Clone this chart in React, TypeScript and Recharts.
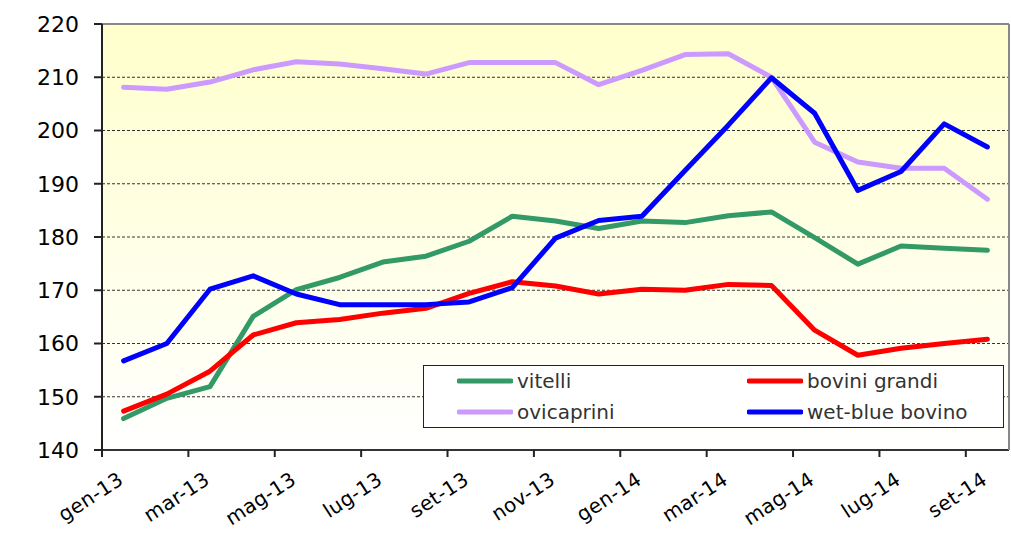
import React from 'react';
import { LineChart, Line, XAxis, YAxis, CartesianGrid, Legend, ReferenceLine } from 'recharts';

const months = ['gen-13','feb-13','mar-13','apr-13','mag-13','giu-13','lug-13','ago-13','set-13','ott-13','nov-13','dic-13','gen-14','feb-14','mar-14','apr-14','mag-14','giu-14','lug-14','ago-14','set-14'];
const vitelli = [145.9,149.7,151.9,165.1,170.1,172.4,175.3,176.4,179.2,183.9,183.0,181.6,183.0,182.7,184.0,184.7,179.9,174.9,178.3,177.9,177.5];
const boviniGrandi = [147.3,150.5,154.8,161.6,163.9,164.5,165.7,166.6,169.4,171.6,170.8,169.3,170.2,170.0,171.1,170.9,162.5,157.8,159.1,160.0,160.8];
const ovicaprini = [208.1,207.75,209.1,211.4,212.9,212.5,211.6,210.6,212.75,212.75,212.75,208.6,211.3,214.25,214.4,210.0,197.8,194.1,192.9,192.9,187.1];
const wetBlue = [156.75,160.0,170.2,172.7,169.3,167.3,167.3,167.3,167.8,170.5,179.8,183.1,183.9,192.5,201.0,209.9,203.25,188.75,192.3,201.25,196.9];
const yTicks = [140,150,160,170,180,190,200,210,220];

const seriesNames = ['vitelli','bovini grandi','ovicaprini','wet-blue bovino'];
const seriesKeys = ['vitelli','boviniGrandi','ovicaprini','wetBlue'];
const seriesColors = ['#339966','#FF0000','#CC99FF','#0000FF'];

const data = months.map((m, i) => ({
  month: m,
  vitelli: vitelli[i],
  boviniGrandi: boviniGrandi[i],
  ovicaprini: ovicaprini[i],
  wetBlue: wetBlue[i],
}));

const W = 1011;
const H = 545;
const Y_AXIS_W = 102;
const RIGHT_W = 2;
const PLOT_W = W - Y_AXIS_W - RIGHT_W;
const BAND = PLOT_W / months.length;
const FONT = '"DejaVu Sans", Verdana, sans-serif';

const XTick = (props: any) => {
  const { x, y, payload, index } = props;
  if (index % 2 !== 0) return null;
  const bx = x - BAND / 2;
  const lx = x + 1;
  const ly = y + 33;
  return (
    <g>
      <line x1={bx} x2={bx} y1={y} y2={y + 7} stroke="#222" strokeWidth={2} />
      <text
        x={lx}
        y={ly}
        textAnchor="end"
        fontFamily={FONT}
        fontSize={20}
        letterSpacing={0.3}
        fill="#000"
        transform={`rotate(-33, ${lx}, ${ly})`}
      >
        {payload.value}
      </text>
    </g>
  );
};

const LegendBox = () => (
  <div
    style={{
      width: '100%',
      height: '100%',
      boxSizing: 'border-box',
      border: '1.5px solid #222',
      background: '#fff',
      position: 'relative',
      fontFamily: FONT,
      fontSize: 20,
      color: '#333',
    }}
  >
    {seriesNames.map((name, k) => {
      const col = k % 2;
      const row = Math.floor(k / 2);
      const left = col === 0 ? 33 : 323;
      const cy = row === 0 ? 15 : 46;
      return (
        <div key={name} style={{ position: 'absolute', left, top: cy - 12, height: 24, display: 'flex', alignItems: 'center', whiteSpace: 'nowrap' }}>
          <svg width={56} height={8} style={{ display: 'block' }}>
            <line x1={2} x2={54} y1={4} y2={4} stroke={seriesColors[k]} strokeWidth={5} strokeLinecap="round" />
          </svg>
          <span style={{ marginLeft: 4, lineHeight: '24px' }}>{name}</span>
        </div>
      );
    })}
  </div>
);

export default function App() {
  return (
    <div style={{ position: 'absolute', left: 0, top: 0, width: W, height: H, background: '#fff' }}>
      <LineChart width={W} height={H} data={data} margin={{ top: 24, right: 0, bottom: 0, left: 0 }}>
        <defs>
          <linearGradient id="bgGrad" x1="0" y1="0" x2="0" y2="1">
            <stop offset="0%" stopColor="#FFFFCC" />
            <stop offset="100%" stopColor="#FFFFFF" />
          </linearGradient>
        </defs>
        <CartesianGrid
          vertical={false}
          fill="url(#bgGrad)"
          stroke="#333"
          strokeDasharray="3 2"
          strokeWidth={1}
          yAxisId="left"
        />
        <XAxis
          dataKey="month"
          interval={0}
          tickLine={false}
          tickSize={0}
          tickMargin={0}
          height={95}
          padding={{ left: BAND / 2, right: BAND / 2 }}
          axisLine={{ stroke: '#333', strokeWidth: 2 }}
          tick={<XTick />}
        />
        <YAxis
          yAxisId="left"
          width={Y_AXIS_W}
          domain={[140, 220]}
          ticks={yTicks}
          interval={0}
          tickSize={8}
          tickMargin={15}
          axisLine={{ stroke: '#222', strokeWidth: 2 }}
          tickLine={{ stroke: '#222', strokeWidth: 2 }}
          tick={{ fontFamily: FONT, fontSize: 22, fill: '#000' }}
        />
        <YAxis
          yAxisId="right"
          orientation="right"
          width={RIGHT_W}
          domain={[140, 220]}
          tick={false}
          tickLine={false}
          axisLine={{ stroke: '#888', strokeWidth: 2 }}
        />
        <ReferenceLine yAxisId="left" y={220} stroke="#888" strokeWidth={2} />
        {seriesKeys.map((key, k) => (
          <Line
            key={key}
            yAxisId="left"
            type="linear"
            dataKey={key}
            name={seriesNames[k]}
            stroke={seriesColors[k]}
            strokeWidth={5}
            dot={false}
            activeDot={false}
            strokeLinejoin="round"
            strokeLinecap="round"
            isAnimationActive={false}
          />
        ))}
        <Legend
          layout="horizontal"
          verticalAlign="middle"
          align="center"
          content={<LegendBox />}
          wrapperStyle={{ position: 'absolute', left: 423, top: 365, width: 581, height: 63 }}
        />
      </LineChart>
    </div>
  );
}
